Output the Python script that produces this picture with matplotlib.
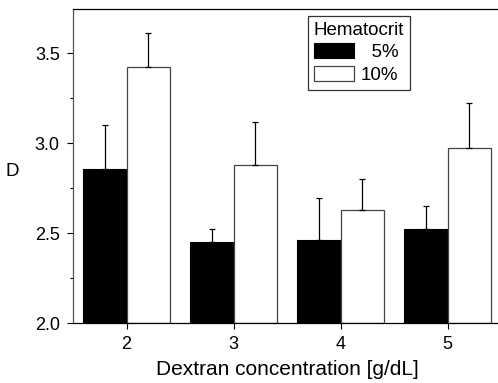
import matplotlib.pyplot as plt
import numpy as np
from matplotlib.ticker import MultipleLocator

plt.rcParams['font.family'] = ['Liberation Sans', 'DejaVu Sans']

dextran = [2, 3, 4, 5]
hct5 = [2.857, 2.45, 2.463, 2.522]
hct5_err = [0.245, 0.072, 0.233, 0.128]
hct10 = [3.424, 2.88, 2.631, 2.974]
hct10_err = [0.186, 0.24, 0.17, 0.251]

fig = plt.figure(figsize=(4.98, 3.83), dpi=100)
# right side of the frame runs past the picture edge
ax = fig.add_axes([73 / 498, 1 - 323.3 / 383, 428 / 498, 314.3 / 383])

x = np.array(dextran)
w = 0.405
zeros = [0] * len(x)
ax.bar(x - w / 2, np.array(hct5) - 2.0, w, bottom=2.0, color='black',
       edgecolor='black', linewidth=0.8, label='  5%')
ax.bar(x + w / 2, np.array(hct10) - 2.0, w, bottom=2.0, color='white',
       edgecolor='#444444', linewidth=0.9, label='10%')
ax.errorbar(x - w / 2, hct5, yerr=[zeros, hct5_err], fmt='none',
            ecolor='black', elinewidth=0.9, capsize=2.5, capthick=0.9)
ax.errorbar(x + w / 2, hct10, yerr=[zeros, hct10_err], fmt='none',
            ecolor='black', elinewidth=0.9, capsize=2.5, capthick=0.9)

ax.set_xlim(1.5, 5.5)
ax.set_ylim(2.0, 3.746)
ax.set_xticks(dextran)
ax.yaxis.set_major_locator(MultipleLocator(0.5))
ax.yaxis.set_minor_locator(MultipleLocator(0.25))
ax.yaxis.set_major_formatter(plt.FormatStrFormatter('%.1f'))
ax.tick_params(axis='both', which='major', direction='out', length=4.5,
               width=0.8, labelsize=13, pad=5)
ax.tick_params(axis='y', which='minor', direction='out', length=2.5, width=0.8)
for s in ['left', 'bottom', 'top']:
    ax.spines[s].set_linewidth(0.9)
ax.spines['left'].set_color('#555555')
ax.spines['right'].set_visible(False)

ax.set_xlabel('Dextran concentration [g/dL]', fontsize=15, labelpad=5)
ax.set_ylabel('D', fontsize=13.5, rotation=0, ha='center', va='center')
ax.yaxis.set_label_coords((12.3 - 73) / 428, (323.3 - 172) / 314.3)

leg = ax.legend(title='Hematocrit', loc='upper left',
                bbox_to_anchor=(235 / 428, (323.3 - 16) / 314.3),
                borderaxespad=0, fontsize=13.5, title_fontsize=13.5,
                frameon=True, fancybox=False, edgecolor='black',
                handlelength=2.15, handleheight=0.85, handletextpad=0.35,
                borderpad=0.3, labelspacing=0.25)
leg.get_frame().set_linewidth(0.9)
leg._legend_box.align = 'left'

fig.savefig('out.png', dpi=100)
